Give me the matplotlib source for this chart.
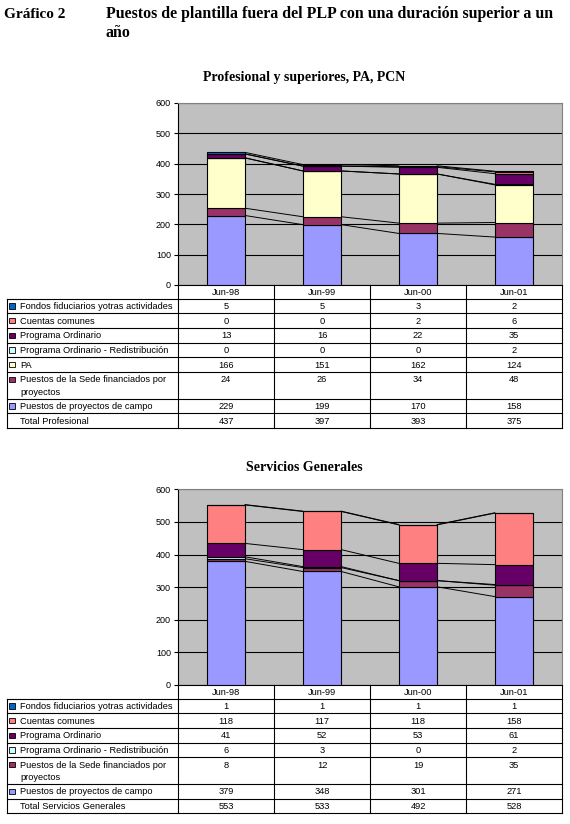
import matplotlib

matplotlib.use("Agg")
import matplotlib.pyplot as plt
import numpy as np
from matplotlib.patches import Rectangle

W, H = 570, 824
SANS = "Liberation Sans"
SERIF = "Liberation Serif"

periods = ["Jun-98", "Jun-99", "Jun-00", "Jun-01"]

LBL_FONDOS = "Fondos fiduciarios yotras actividades"
LBL_CUENTAS = "Cuentas comunes"
LBL_ORD = "Programa Ordinario"
LBL_REDIS = "Programa Ordinario - Redistribución"
LBL_PA = "PA"
LBL_SEDE = "Puestos de la Sede financiados por\nproyectos"
LBL_CAMPO = "Puestos de proyectos de campo"

COLORS = {
    LBL_FONDOS: "#0066CC",
    LBL_CUENTAS: "#FF8080",
    LBL_ORD: "#660066",
    LBL_REDIS: "#CCFFFF",
    LBL_PA: "#FFFFCC",
    LBL_SEDE: "#993366",
    LBL_CAMPO: "#9999FF",
}

# Profesional y superiores, PA, PCN
prof_campo = [229, 199, 170, 158]
prof_sede = [24, 26, 34, 48]
prof_pa = [166, 151, 162, 124]
prof_redis = [0, 0, 0, 2]
prof_ordinario = [13, 16, 22, 35]
prof_cuentas = [0, 0, 2, 6]
prof_fondos = [5, 5, 3, 2]
prof_total = [437, 397, 393, 375]

# Servicios Generales
gs_campo = [379, 348, 301, 271]
gs_sede = [8, 12, 19, 35]
gs_redis = [6, 3, 0, 2]
gs_ordinario = [41, 52, 53, 61]
gs_cuentas = [118, 117, 118, 158]
gs_fondos = [1, 1, 1, 1]
gs_total = [553, 533, 492, 528]


def px_rect(left, top, right, bottom):
    return [left / W, 1 - bottom / H, (right - left) / W, (bottom - top) / H]


def draw_panel(fig, title, title_y, plot_top, plot_bottom,
               series, total_label, totals):
    plot_left, plot_right, table_left = 178, 562, 7.3
    n = len(periods)
    unit_px = (plot_right - plot_left) / n

    # chart title is centred on the whole chart area (plot + table)
    fig.text(304 / W, 1 - title_y / H, title, ha="center", va="center",
             fontsize=10, fontweight="bold", family=SERIF)

    ax = fig.add_axes(px_rect(plot_left, plot_top, plot_right, plot_bottom))
    ax.set_facecolor("#C0C0C0")
    x = np.arange(n)
    width = 0.4
    bottom = np.zeros(n)
    tops = []
    for label, vals in series:
        ax.bar(x, vals, width, bottom=bottom, color=COLORS[label],
               edgecolor="black", linewidth=0.8, zorder=3)
        bottom = bottom + np.array(vals)
        tops.append(bottom.copy())
    # Excel-style series lines between the bars
    for top in tops:
        for i in range(n - 1):
            ax.plot([x[i] + width / 2, x[i + 1] - width / 2], [top[i], top[i + 1]],
                    color="black", lw=0.7, zorder=2)
    ax.set_xlim(-0.5, n - 0.5)
    ax.set_ylim(0, 600)
    ax.set_yticks(range(0, 601, 100))
    ax.set_xticks([])
    ax.yaxis.grid(True, color="black", lw=0.8)
    ax.set_axisbelow(True)
    ax.tick_params(axis="y", length=3, width=0.8, pad=2, labelsize=6.5)
    for t in ax.get_yticklabels():
        t.set_family(SANS)
    for side in ("left", "bottom"):
        ax.spines[side].set_color("black")
        ax.spines[side].set_linewidth(0.8)
    for side in ("top", "right"):
        ax.spines[side].set_color("#808080")
        ax.spines[side].set_linewidth(0.8)

    # data table below the plot, y in pixels from the axis line
    header_h = 13.7
    row_h = 14.67
    rows = [(label, vals) for label, vals in reversed(series)]
    rows.append((total_label, totals))
    heights = [row_h * (1.82 if "\n" in label else 1) for label, _ in rows]
    total_h = header_h + sum(heights)

    tab = fig.add_axes(px_rect(table_left, plot_bottom, plot_right,
                               plot_bottom + total_h))
    tab.set_xlim(-0.5 - (plot_left - table_left) / unit_px, n - 0.5)
    tab.set_ylim(total_h, 0)
    tab.axis("off")
    xmin = tab.get_xlim()[0]
    lk = dict(color="black", lw=0.8, clip_on=False)
    tk = dict(family=SANS, fontsize=6.7, clip_on=False)

    for i in range(n + 1):
        tab.plot([i - 0.5, i - 0.5], [0, total_h], **lk)
    tab.plot([xmin, xmin], [header_h, total_h], **lk)
    for i, p in enumerate(periods):
        tab.text(i, header_h / 2 + 0.5, p, ha="center", va="center", **tk)

    y = header_h
    for (label, vals), h in zip(rows, heights):
        tab.plot([xmin, n - 0.5], [y, y], **lk)
        yc = y + 7.3
        if label in COLORS:
            sq = 5.5
            tab.add_patch(Rectangle((xmin + 1.8 / unit_px, yc - sq / 2),
                                    sq / unit_px, sq, facecolor=COLORS[label],
                                    edgecolor="black", lw=0.6, clip_on=False))
        for k, line in enumerate(label.split("\n")):
            tab.text(xmin + 12.7 / unit_px, yc + k * 12.7 + 0.5, line,
                     ha="left", va="center", **tk)
        for i, v in enumerate(vals):
            tab.text(i, yc + 0.5, str(v), ha="center", va="center", **tk)
        y += h
    tab.plot([xmin, n - 0.5], [y, y], **lk)


fig = plt.figure(figsize=(W / 100, H / 100), dpi=100)

fig.text(4 / W, 1 - 14 / H, "Gráfico 2", ha="left", va="center",
         fontsize=11, fontweight="bold", family=SERIF)
fig.text(106 / W, 1 - 14 / H,
         "Puestos de plantilla fuera del PLP con una duración superior a un",
         ha="left", va="center", fontsize=11.4, fontweight="bold", family=SERIF)
fig.text(106 / W, 1 - 33 / H, "año", ha="left", va="center",
         fontsize=11.4, fontweight="bold", family=SERIF)

draw_panel(
    fig, "Profesional y superiores, PA, PCN", 77.5, 103, 285,
    [(LBL_CAMPO, prof_campo), (LBL_SEDE, prof_sede), (LBL_PA, prof_pa),
     (LBL_REDIS, prof_redis), (LBL_ORD, prof_ordinario),
     (LBL_CUENTAS, prof_cuentas), (LBL_FONDOS, prof_fondos)],
    "Total Profesional", prof_total,
)

draw_panel(
    fig, "Servicios Generales", 467.5, 489.3, 685,
    [(LBL_CAMPO, gs_campo), (LBL_SEDE, gs_sede), (LBL_REDIS, gs_redis),
     (LBL_ORD, gs_ordinario), (LBL_CUENTAS, gs_cuentas),
     (LBL_FONDOS, gs_fondos)],
    "Total Servicios Generales", gs_total,
)

fig.savefig("out.png", dpi=100, facecolor="white")
